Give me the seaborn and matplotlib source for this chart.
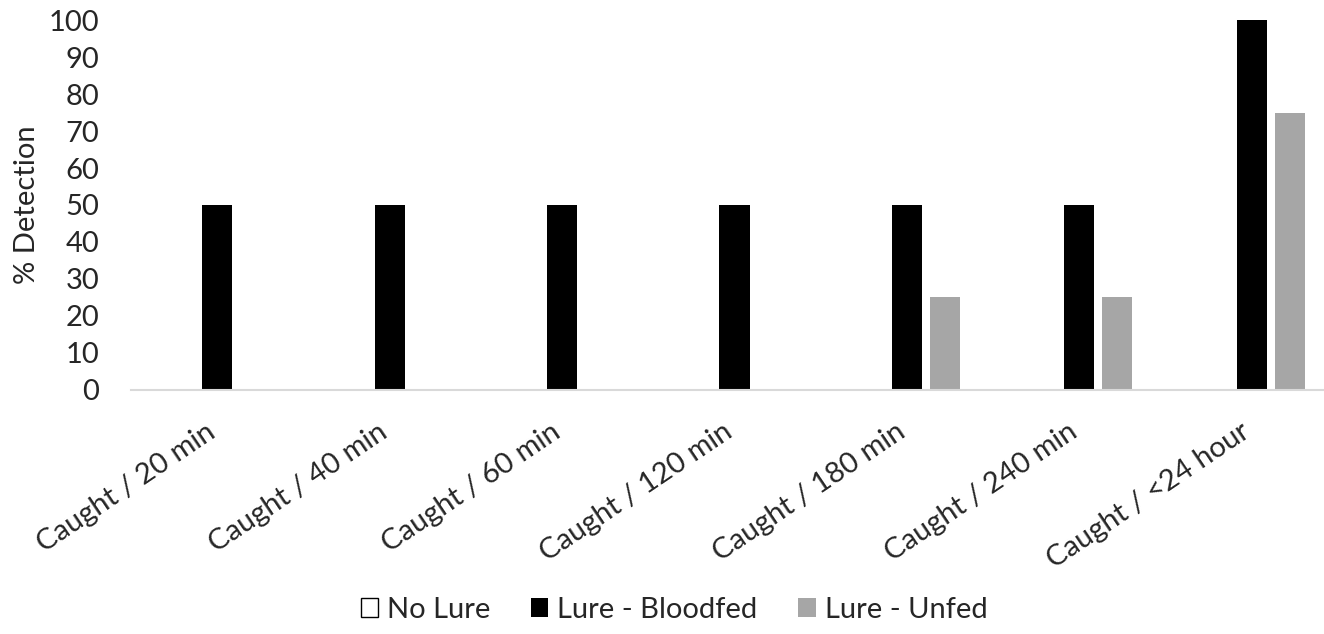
import numpy as np
import pandas as pd
import matplotlib.pyplot as plt
import matplotlib.transforms as mtransforms
import seaborn as sns

# values
categories = ['Caught / 20 min', 'Caught / 40 min', 'Caught / 60 min', 'Caught / 120 min',
              'Caught / 180 min', 'Caught / 240 min', 'Caught / <24 hour']
series = ['No Lure', 'Lure - Bloodfed', 'Lure - Unfed']
no_lure = [0, 0, 0, 0, 0, 0, 0]
lure_bloodfed = [50, 50, 50, 50, 50, 50, 100]
lure_unfed = [0, 0, 0, 0, 25, 25, 75]
y_ticks = [0, 10, 20, 30, 40, 50, 60, 70, 80, 90, 100]

df = pd.DataFrame({
    'category': categories * 3,
    'series': [series[0]] * 7 + [series[1]] * 7 + [series[2]] * 7,
    'value': no_lure + lure_bloodfed + lure_unfed,
})

sns.set_style('white')
plt.rcParams['font.family'] = ['Lato', 'DejaVu Sans']
fs = 21

fig = plt.figure(figsize=(13.24, 6.34), dpi=100)
ax = fig.add_axes([131 / 1324, 1 - 389.5 / 634, 1207 / 1324, 369 / 634])

palette = {'No Lure': '#FFFFFF', 'Lure - Bloodfed': '#000000', 'Lure - Unfed': '#A6A6A6'}
sns.barplot(data=df, x='category', y='value', hue='series', hue_order=series,
            palette=palette, width=0.661, gap=0.21, saturation=1, ax=ax,
            edgecolor='none', linewidth=0)

ax.set_ylim(0, 100)
ax.set_xlim(-0.5, 6.5)
ax.set_yticks(y_ticks)
ax.set_yticklabels([str(t) for t in y_ticks], fontsize=fs)
ax.tick_params(axis='y', length=0, pad=23)
ax.tick_params(axis='x', length=0, pad=21)
ax.set_xticks(range(len(categories)))
ax.set_xticklabels(categories, fontsize=fs, rotation=34, ha='right', rotation_mode='anchor')
# nudge the rotated labels a little to the left, like the original
shift = mtransforms.ScaledTranslation(-12 / 100, 0, fig.dpi_scale_trans)
for lbl in ax.get_xticklabels():
    lbl.set_transform(lbl.get_transform() + shift)
ax.set_xlabel('')
ax.set_ylabel('% Detection', fontsize=fs, labelpad=6)

for s in ['top', 'right', 'left']:
    ax.spines[s].set_visible(False)
ax.spines['bottom'].set_color('#D9D9D9')
ax.spines['bottom'].set_linewidth(1.5)

handles, labels = ax.get_legend_handles_labels()
ax.get_legend().remove()
handles[0].set_edgecolor('#000000')
handles[0].set_linewidth(1.0)
fig.legend(handles, labels, loc='center', bbox_to_anchor=(0.509, 24 / 634), ncol=3,
           frameon=False, fontsize=fs, handlelength=0.6, handleheight=0.6,
           handletextpad=0.3, columnspacing=1.4)

plt.savefig('out.png', dpi=100)
